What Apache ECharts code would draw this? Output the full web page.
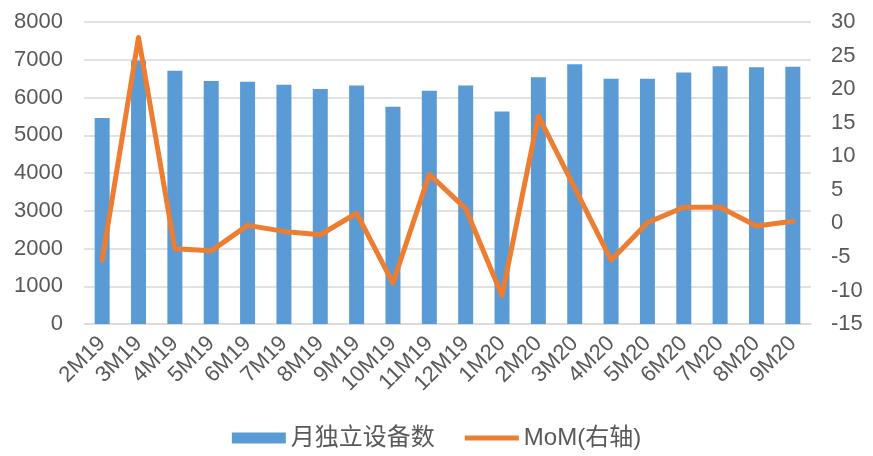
<!DOCTYPE html>
<html>
<head>
  <meta charset="utf-8">
  <title>月独立设备数</title>
  <script src="https://cdn.jsdelivr.net/npm/echarts@6/dist/echarts.min.js"></script>
  <style>
    html, body { margin: 0; padding: 0; background: #fff; }
    #main { width: 873px; height: 456px; }
  </style>
</head>
<body>
  <div id="main"></div>
  <script>
    // 月份
    var months = ['2M19','3M19','4M19','5M19','6M19','7M19','8M19','9M19','10M19','11M19',
                  '12M19','1M20','2M20','3M20','4M20','5M20','6M20','7M20','8M20','9M20'];
    // 月独立设备数（左轴）
    var devices = [5455, 6980, 6710, 6435, 6420, 6340, 6225, 6320, 5755, 6180,
                   6315, 5630, 6535, 6880, 6500, 6500, 6665, 6825, 6800, 6815];
    // MoM（右轴，%）
    var mom = [-5.5, 27.7, -3.8, -4.1, -0.3, -1.2, -1.7, 1.5, -8.9, 7.3,
               2.2, -10.8, 16.0, 5.3, -5.5, 0.1, 2.4, 2.4, -0.4, 0.3];

    var leftTicks = { min: 0, max: 8000, interval: 1000 };
    var rightTicks = { min: -15, max: 30, interval: 5 };

    var txt = '#595959';
    var fontFam = '"Liberation Sans", "Noto Sans CJK SC", sans-serif';

    var chart = echarts.init(document.getElementById('main'));
    chart.setOption({
      animation: false,
      textStyle: { fontFamily: fontFam },
      grid: { left: 84, right: 62, top: 22, bottom: 132, containLabel: false },
      legend: {
        bottom: 1,
        left: 'center',
        itemWidth: 54,
        itemHeight: 11,
        itemGap: 30,
        textStyle: { fontSize: 24, color: txt, fontFamily: fontFam },
        data: [
          { name: '月独立设备数', icon: 'rect' },
          // 图例里只画一条粗线，不带圆点
          { name: 'MoM(右轴)', icon: 'path://M0,0 L56,0 L56,5 L0,5 Z' }
        ]
      },
      xAxis: {
        type: 'category',
        data: months,
        axisTick: { show: false },
        axisLine: { lineStyle: { color: '#d9d9d9', width: 1.5 } },
        axisLabel: { rotate: 45, fontSize: 22, color: txt, margin: 16, interval: 0 }
      },
      yAxis: [
        {
          type: 'value',
          min: leftTicks.min, max: leftTicks.max, interval: leftTicks.interval,
          axisLine: { show: false },
          axisTick: { show: false },
          splitLine: { lineStyle: { color: '#d9d9d9', width: 1.5 } },
          axisLabel: { fontSize: 22, color: txt, margin: 21, formatter: function (v) { return String(v); } }
        },
        {
          type: 'value',
          min: rightTicks.min, max: rightTicks.max, interval: rightTicks.interval,
          axisLine: { show: false },
          axisTick: { show: false },
          splitLine: { show: false },
          axisLabel: { fontSize: 22, color: txt, margin: 20 }
        }
      ],
      series: [
        {
          name: '月独立设备数',
          type: 'bar',
          data: devices,
          barWidth: 15,
          itemStyle: { color: '#5b9bd5' }
        },
        {
          name: 'MoM(右轴)',
          type: 'line',
          yAxisIndex: 1,
          data: mom,
          symbol: 'none',
          lineStyle: { color: '#ed7d31', width: 5, cap: 'round', join: 'round' },
          itemStyle: { color: '#ed7d31' }
        }
      ]
    });
  </script>
</body>
</html>
